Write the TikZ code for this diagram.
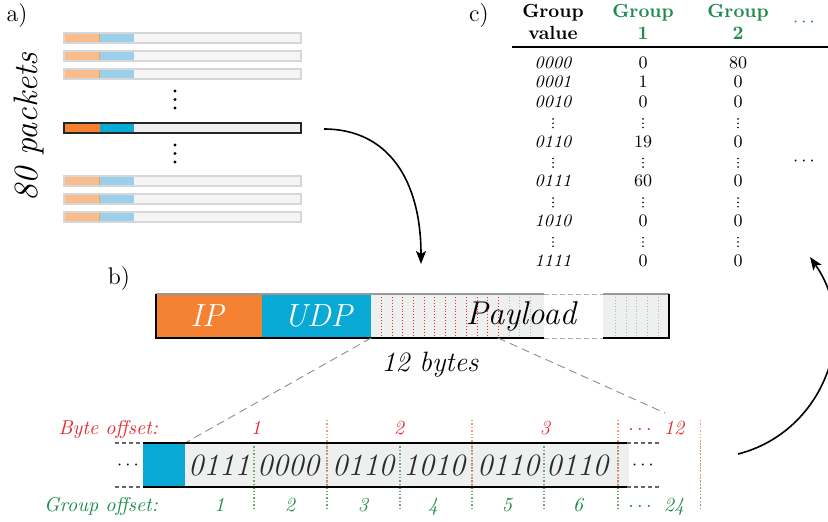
\documentclass[tikz,border=0pt]{standalone}
\usetikzlibrary{arrows.meta}
\definecolor{orgD}{HTML}{F58232}
\definecolor{orgL}{HTML}{F9BC8C}
\definecolor{orgE}{HTML}{E8A070}
\definecolor{bluD}{HTML}{09A9D5}
\definecolor{bluL}{HTML}{9CD0EA}
\definecolor{greyF}{HTML}{EEF0EF}
\definecolor{greyL}{HTML}{F4F5F4}
\definecolor{greyB}{HTML}{D6D8D7}
\definecolor{txtred}{HTML}{E52A2F}
\definecolor{txtgreen}{HTML}{1E8A4C}
\definecolor{dotred}{HTML}{F29A80}
\definecolor{dotgreen}{HTML}{6EA46E}
\definecolor{bitgray}{HTML}{2B2B2B}
\begin{document}
\begin{tikzpicture}[x=0.5pt,y=-0.5pt,
  fs/.style={font=\fontsize{#1}{#1}\selectfont},
  txt/.style={inner sep=0pt, outer sep=0pt},
  tab/.style={txt, anchor=base, fs=8.75},
  tabb/.style={txt, anchor=base, font=\fontsize{9.5}{9.5}\selectfont\bfseries},
  tabg/.style={tabb, text=txtgreen},
  bits/.style={txt, anchor=base, font=\fontsize{15.5}{15.5}\selectfont\itshape, text=bitgray},
  offr/.style={txt, anchor=base, font=\fontsize{10}{10}\selectfont\itshape, text=txtred},
  offg/.style={txt, anchor=base, font=\fontsize{10}{10}\selectfont\itshape, text=txtgreen},
  arr/.style={line width=0.8pt, -{Stealth[length=6.5pt,width=5pt,inset=1.5pt]}},
  zoomline/.style={draw=gray!90, line width=0.45pt, dash pattern=on 4pt off 2.5pt},
  bytesep/.style={draw=dotred, line width=0.7pt, densely dotted},
  groupsep/.style={draw=dotgreen, line width=0.7pt, densely dotted}
]
\useasboundingbox (0,0) rectangle (828,521);
\clip (0,0) rectangle (828,521);

% ---------- labels
\node[txt, fs=12] (la) at (17,16) {a)};
\node[txt, fs=12] (lb) at (119,279) {b)};
\node[txt, fs=12] (lc) at (479,16) {c)};

% ---------- a) packets
\node[txt, font=\fontsize{17}{17}\selectfont\itshape, rotate=90] (pk) at (29,127) {80 packets};
\foreach \t in {33,51,69,176,194,212} {
  \fill[orgL] (64,\t) rectangle (99.5,\t+10);
  \fill[bluL] (99.5,\t) rectangle (134,\t+10);
  \fill[greyL] (134,\t) rectangle (301,\t+10);
  \draw[orgE, line width=0.4pt] (99.5,\t) -- (99.5,\t+10);
  \draw[greyB, line width=0.6pt] (64,\t) rectangle (301,\t+10);
}
\fill[orgD] (64,123) rectangle (99.5,133);
\fill[bluD] (99.5,123) rectangle (134,133);
\fill[greyF] (134,123) rectangle (301,133);
\draw[line width=0.8pt, draw=black!85] (64,123) rectangle (301,133);
\foreach \y in {91,99.5,108,145,153.5,162} \fill (175,\y) circle (0.8pt);

% arrow a -> b
\coordinate (a1) at (324,129);
\coordinate (a2) at (421,264);
\draw[arr] (a1) .. controls (388,129) and (421,180) .. (a2);

% ---------- b) packet
\fill[orgD] (156,294) rectangle (262,338);
\fill[bluD] (262,294) rectangle (371,338);
\fill[greyF] (371,294) rectangle (544,338);
\fill[greyF] (603,294) rectangle (669,338);
\foreach \i in {0,...,11} \draw[red!85, line width=0.45pt, densely dotted] (381.7+\i*10.6,294) -- (381.7+\i*10.6,338);
\foreach \xx in {509.2,519.8,530.4,615.7,626.3,636.9,647.5,658.1} \draw[gray!55, line width=0.45pt, densely dotted] (\xx,294) -- (\xx,338);
\draw[gray!80, line width=0.7pt] (544,294) -- (156,294);
\draw[line width=0.7pt] (156,294) -- (156,338) -- (544,338);
\draw[gray!80, line width=0.7pt] (603,294) -- (669,294);
\draw[line width=0.7pt] (669,294) -- (669,338) -- (603,338);
\draw[gray!60, line width=0.5pt, dash pattern=on 2.5pt off 1.5pt] (544,294) -- (603,294);
\draw[gray!60, line width=0.5pt, dash pattern=on 2.5pt off 1.5pt] (544,338) -- (603,338);
\node[txt, anchor=base, font=\fontsize{16}{16}\selectfont\itshape, text=white] (ip) at (207,326) {IP};
\node[txt, anchor=base, font=\fontsize{16}{16}\selectfont\itshape, text=white] (udp) at (318,326) {UDP};
\node[txt, anchor=base, font=\fontsize{16.5}{16.5}\selectfont\itshape] (pay) at (521,324) {Payload};
\node[txt, anchor=base, font=\fontsize{14}{14}\selectfont\itshape] (twelve) at (430,371) {12 bytes};

% zoom lines
\coordinate (zA) at (371,338);
\coordinate (zB) at (185,443);
\coordinate (zC) at (498,338);
\coordinate (zD) at (665,413);
\draw[zoomline] (zA) -- (zB);
\draw[zoomline] (zC) -- (zD);

% ---------- bit box
\fill[bluD] (143,443) rectangle (185,487);
\fill[greyF] (185,443) rectangle (629,487);
\foreach \xx in {254,327,400,472,544,618,700.7} \draw[groupsep] (\xx,443) -- (\xx,510);
\foreach \xx in {327,472,618,700.7} \draw[bytesep] (\xx,420) -- (\xx,487);
\draw[line width=0.7pt] (143,443) -- (627,443);
\draw[line width=0.7pt] (143,487) -- (627,487);
\draw[line width=0.6pt, gray!80!black, dash pattern=on 2pt off 1.5pt] (115,443) -- (143,443);
\draw[line width=0.6pt, gray!80!black, dash pattern=on 2pt off 1.5pt] (115,487) -- (143,487);
\draw[line width=0.6pt, gray!80!black, dash pattern=on 2pt off 1.5pt] (627,443) -- (662,443);
\draw[line width=0.6pt, gray!80!black, dash pattern=on 2pt off 1.5pt] (627,487) -- (662,487);
\node[txt, fs=9] (ldots) at (128,465) {$\cdots$};
\node[txt, fs=9] (rdots) at (643,465) {$\cdots$};
\node[bits] (b1) at (219,475) {0111};
\node[bits] (b2) at (288,475) {0000};
\node[bits] (b3) at (363,475) {0110};
\node[bits] (b4) at (434,475) {1010};
\node[bits] (b5) at (508,475) {0110};
\node[bits] (b6) at (577,475) {0110};

% offsets
\node[offr, anchor=base east] (byteoff) at (158,434) {Byte offset:};
\node[offr] (o1) at (256,434) {1};
\node[offr] (o2) at (399,434) {2};
\node[offr] (o3) at (545,434) {3};
\node[offr] (odots) at (640,434) {$\cdots$};
\node[offr] (o12) at (674,434) {12};
\node[offg, anchor=base east] (groupoff) at (158,511) {Group offset:};
\node[offg] (g1) at (219.5,511) {1};
\node[offg] (g2) at (290,511) {2};
\node[offg] (g3) at (363,511) {3};
\node[offg] (g4) at (433,511) {4};
\node[offg] (g5) at (507,511) {5};
\node[offg] (g6) at (578,511) {6};
\node[offg] (gdots) at (640,511) {$\cdots$};
\node[offg] (g24) at (674,511) {24};

% arrow bits -> table
\coordinate (c1) at (738,454);
\coordinate (c2) at (810,257);
\draw[arr] (c1) .. controls (824,432) and (861,330) .. (c2);

% ---------- c) table
\node[tabb] (h0a) at (553,17) {Group};
\node[tabb] (h0b) at (553,39) {value};
\node[tabg] (h1a) at (643,17) {Group};
\node[tabg] (h1b) at (643,39) {1};
\node[tabg] (h2a) at (738,17) {Group};
\node[tabg] (h2b) at (738,39) {2};
\node[txt, fs=9, text=txtgreen] (hdots) at (804,22) {$\cdots$};
\node[txt, fs=9] (mdots) at (804,161) {$\cdots$};
\coordinate (r0) at (512,47);
\coordinate (r1) at (828,47);
\draw[line width=0.7pt] (r0) -- (r1);
\foreach \i/\v/\a/\b in {0/0000/0/80, 1/0001/1/0, 2/0010/0/0, 4/0110/19/0, 6/0111/60/0, 8/1010/0/0, 10/1111/0/0} {
  \node[tab, font=\fontsize{8.75}{8.75}\selectfont\itshape] (v\i) at (553,68+19.8*\i) {\v};
  \node[tab] (p\i) at (643,68+19.8*\i) {\a};
  \node[tab] (q\i) at (738,68+19.8*\i) {\b};
}
\foreach \i in {3,5,7,9} \foreach \xx in {553,643,738} {
  \fill (\xx,68+19.8*\i-8.5) circle (0.45pt);
  \fill (\xx,68+19.8*\i-4.2) circle (0.45pt);
  \fill (\xx,68+19.8*\i+0.1) circle (0.45pt);
}
\end{tikzpicture}
\end{document}
